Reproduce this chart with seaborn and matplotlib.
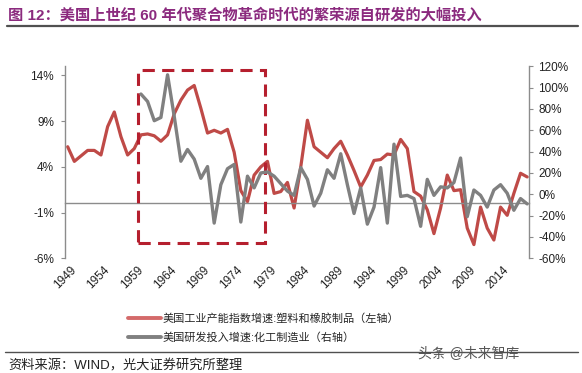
import numpy as np
import pandas as pd
import matplotlib
matplotlib.use("Agg")
import matplotlib.pyplot as plt
import matplotlib.transforms as mtransforms
from matplotlib.patches import Rectangle
from matplotlib.lines import Line2D
import seaborn as sns

# data
years = list(range(1949, 2019))
capacity_growth = [6.2, 4.6, 5.2, 5.8, 5.8, 5.3, 8.4, 10.0, 7.3, 5.3,
                   6.0, 7.5, 7.6, 7.4, 6.8, 7.5, 9.8, 11.3, 12.4, 12.9,
                   10.4, 7.7, 8.0, 7.7, 8.1, 5.6, 1.4, 0.2, 3.1, 4.0,
                   4.6, 1.1, 1.3, 2.3, -0.5, 4.0, 9.1, 6.2, 5.6, 5.0,
                   6.0, 6.8, 5.3, 3.6, 1.8, 3.1, 4.7, 4.8, 5.4, 5.3,
                   7.0, 6.0, 1.3, 0.8, -0.7, -3.3, -0.5, 3.1, 1.4, 1.5,
                   -2.7, -4.5, -0.4, -2.7, -4.0, -0.4, -1.3, 1.1, 3.3, 2.9]
rd_years = list(range(1960, 2019))
rd_growth = [94, 87, 69, 72, 112, 73, 31, 42, 33, 15,
             26, -27, 9, 24, 28, -26, 17, 6, 20, 21,
             17, 10, 3, -1, 25, 14, -11, 1, 23, 15,
             38, 9, -18, 6, -28, -12, 25, -27, 47, -2,
             -1, -4, -30, 14, -1, 7, 6, 11, 34, -21,
             4, -1, -12, 4, 9, 1, -15, -4, -9]

left_ticks = [-6, -1, 4, 9, 14]
right_ticks = list(range(-60, 121, 20))
label_years = list(range(1949, 2015, 5))
boom_years = (1959.5, 1978.6)
boom_range = (-4.3, 14.6)

title_text = "图 12：美国上世纪 60 年代聚合物革命时代的繁荣源自研发的大幅投入"
legend_labels = ["美国工业产能指数增速:塑料和橡胶制品（左轴）",
                 "美国研发投入增速:化工制造业（右轴）"]
source_text = "资料来源：WIND，光大证券研究所整理"
watermark = "头条 @未来智库"

sns.set_style("white")
plt.rcParams['font.family'] = ['Liberation Sans', 'Noto Sans CJK SC']
plt.rcParams['axes.unicode_minus'] = False

red = "#BF4A47"
grey = "#808080"
axis_grey = "#8C8C8C"

df_cap = pd.DataFrame({'year': years, 'growth': capacity_growth})
df_rd = pd.DataFrame({'year': rd_years, 'growth': rd_growth})

fig = plt.figure(figsize=(5.82, 3.73), dpi=100)
ax = fig.add_axes([0.1117, 0.3075, 0.7964, 0.5148])
ax2 = ax.twinx()

sns.lineplot(data=df_cap, x='year', y='growth', ax=ax, color=red, lw=2.3)
sns.lineplot(data=df_rd, x='year', y='growth', ax=ax2, color=grey, lw=2.4)

ax.set_xlim(1948.6, 2018.2)
ax.set_ylim(-6, 15)
ax2.set_ylim(-60, 120)

ax.set_yticks(left_ticks)
ax.set_yticklabels([f"{v}%" for v in left_ticks])
ax2.set_yticks(right_ticks)
ax2.set_yticklabels([f"{v}%" for v in right_ticks])

# tick marks sit between years on the zero line
ax.set_xticks(np.arange(1953.5, 2018, 5))
ax.set_xticklabels([])
ax.spines['bottom'].set_position(('data', 0))
for s in ['top', 'right']:
    ax.spines[s].set_visible(False)
for s in ['top', 'left', 'bottom']:
    ax2.spines[s].set_visible(False)
for a, s in [(ax, 'left'), (ax, 'bottom'), (ax2, 'right')]:
    a.spines[s].set_color(axis_grey)
    a.spines[s].set_linewidth(1.0)

ax.tick_params(axis='x', direction='in', length=3, color=axis_grey)
ax.tick_params(axis='y', direction='out', length=3, color=axis_grey,
               labelsize=8.5, labelcolor='#222222', pad=5)
ax2.tick_params(axis='y', direction='out', length=3, color=axis_grey,
                labelsize=8.5, labelcolor='#222222', pad=4)
ax.set_xlabel('')
ax.set_ylabel('')
ax2.set_ylabel('')

trans = mtransforms.blended_transform_factory(ax.transData, ax.transAxes)
for y in label_years:
    ax.text(y + 0.4, -0.03, str(y), transform=trans, rotation=45,
            ha='right', va='top', rotation_mode='anchor', fontsize=8.5,
            color='#222222')

ax.add_patch(Rectangle((boom_years[0], boom_range[0]),
                       boom_years[1] - boom_years[0],
                       boom_range[1] - boom_range[0],
                       fill=False, edgecolor='#B51F2E', lw=2.2,
                       ls=(0, (4, 2.4)), zorder=5))

handles = [Line2D([], [], color='#D46A6A', lw=2.8),
           Line2D([], [], color=grey, lw=2.8)]
fig.legend(handles, legend_labels, loc='upper left',
           bbox_to_anchor=(0.212, 0.172), frameon=False,
           fontsize=8, handlelength=3.0, handletextpad=0.15,
           labelspacing=0.75, borderaxespad=0)

fig.text(0.014, 0.958, title_text, fontsize=11, fontweight='bold',
         color='#8B2A7E', ha='left', va='center')
fig.add_artist(Line2D([0.012, 0.993], [0.930, 0.930], color='#505050',
                      lw=1.6, transform=fig.transFigure))
fig.add_artist(Line2D([0.009, 0.993], [0.056, 0.056], color='#505050',
                      lw=1.0, transform=fig.transFigure))
fig.text(0.014, 0.018, source_text, fontsize=9.5, color='#222222',
         ha='left', va='center')
fig.text(0.805, 0.05, watermark, fontsize=10, color='#555555',
         ha='center', va='center')

fig.savefig("out.png", dpi=100)
